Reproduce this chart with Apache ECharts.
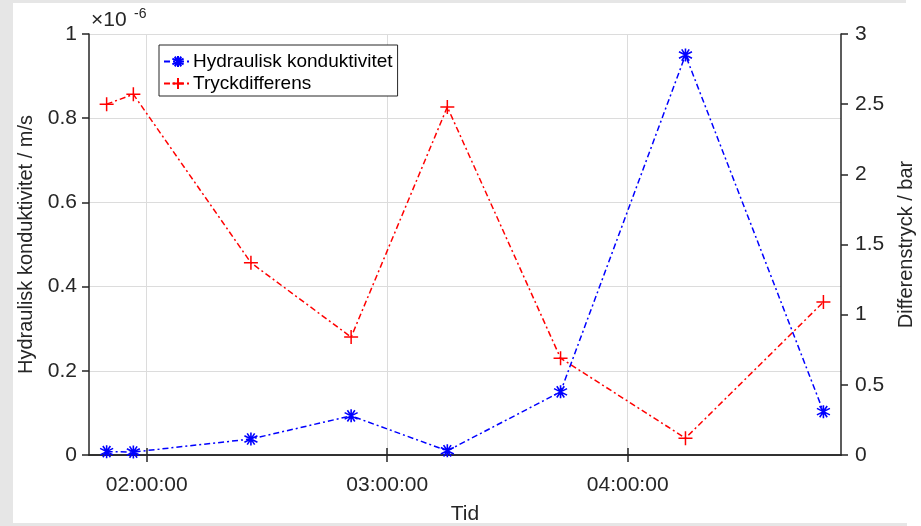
<!DOCTYPE html>
<html>
<head>
<meta charset="utf-8">
<script src="https://cdn.jsdelivr.net/npm/echarts@6/dist/echarts.min.js"></script>
<style>
  html, body { margin: 0; padding: 0; background: #fff; }
  #chart { width: 921px; height: 526px; }
</style>
</head>
<body>
<div id="chart"></div>
<script>
// mättidpunkter (hh:mm:ss)
const times = ['01:50:00', '01:56:40', '02:26:00', '02:51:00', '03:15:00', '03:43:15', '04:14:25', '04:48:50']
// hydraulisk konduktivitet, enhet 1e-6 m/s
const kond = [0.008, 0.007, 0.038, 0.093, 0.010, 0.150, 0.950, 0.103]
// tryckdifferens, bar
const tryck = [2.50, 2.57, 1.37, 0.84, 2.48, 0.69, 0.12, 1.09]
const timeTicks = [2, 3, 4]

const toHours = s => {
  const p = s.split(':').map(Number)
  return p[0] + p[1] / 60 + p[2] / 3600
}
const fmtTime = h => String(Math.round(h)).padStart(2, '0') + ':00:00'
const fmtNum = v => String(+v.toFixed(2))

const font = '"Liberation Sans", Arial, sans-serif'
const ink = '#262626'
const asterisk = 'path://M0,-10L0,10M-8.7,-5L8.7,5M-8.7,5L8.7,-5M-5,-8.7L5,8.7M5,-8.7L-5,8.7'
const plus = 'path://M0,-10L0,10M-10,0L10,0'

const xMin = 1.76
const xMax = 4.887

const chart = echarts.init(document.getElementById('chart'))
chart.setOption({
  animation: false,
  backgroundColor: '#fff',
  textStyle: { fontFamily: font, color: ink },
  graphic: [
    { type: 'rect', shape: { x: 0, y: 0, width: 906, height: 3 }, style: { fill: '#e6e6e6' } },
    { type: 'rect', shape: { x: 0, y: 0, width: 13, height: 526 }, style: { fill: '#e6e6e6' } },
    { type: 'rect', shape: { x: 0, y: 523, width: 907, height: 3 }, style: { fill: '#e6e6e6' } },
    { type: 'text', left: 91, top: 10, style: { text: '×10', font: '21px ' + font, fill: ink } },
    { type: 'text', left: 134, top: 7, style: { text: '-6', font: '14px ' + font, fill: ink } }
  ],
  grid: { left: 89, right: 80, top: 34, bottom: 71, outerBoundsMode: 'none' },
  legend: {
    orient: 'vertical',
    left: 159,
    top: 45,
    padding: [7, 5, 3, 4],
    itemGap: 3,
    itemWidth: 28,
    itemHeight: 14,
    backgroundColor: '#fff',
    borderColor: ink,
    borderWidth: 1,
    textStyle: { fontSize: 19, color: '#000', padding: [0, 0, 0, -4] },
    data: ['Hydraulisk konduktivitet', 'Tryckdifferens']
  },
  xAxis: [{
    type: 'value',
    min: xMin,
    max: xMax,
    name: 'Tid',
    nameLocation: 'middle',
    nameGap: 49,
    nameTextStyle: { fontSize: 21, color: ink },
    axisLine: { lineStyle: { color: ink, width: 1.5 } },
    axisTick: { customValues: timeTicks, length: 7, lineStyle: { color: ink, width: 1.5 } },
    axisLabel: { customValues: timeTicks, formatter: fmtTime, fontSize: 21, color: ink, margin: 20 },
    splitLine: { show: true, lineStyle: { color: '#dcdcdc', width: 1 } }
  }, {
    type: 'value',
    position: 'top',
    min: xMin,
    max: xMax,
    axisLine: { lineStyle: { color: ink, width: 1.5 } },
    axisTick: { customValues: timeTicks, length: 7, lineStyle: { color: ink, width: 1.5 } },
    axisLabel: { show: false },
    splitLine: { show: false }
  }],
  yAxis: [{
    type: 'value',
    min: 0,
    max: 1,
    interval: 0.2,
    name: 'Hydraulisk konduktivitet / m/s',
    nameLocation: 'middle',
    nameGap: 45,
    nameTextStyle: { fontSize: 20, color: ink },
    axisLine: { show: true, lineStyle: { color: ink, width: 1.5 } },
    axisTick: { show: true, length: 7, lineStyle: { color: ink, width: 1.5 } },
    axisLabel: { formatter: fmtNum, fontSize: 21, color: ink, margin: 12 },
    splitLine: { show: true, lineStyle: { color: '#dcdcdc', width: 1 } }
  }, {
    type: 'value',
    position: 'right',
    min: 0,
    max: 3,
    interval: 0.5,
    name: 'Differenstryck / bar',
    nameLocation: 'middle',
    nameGap: 55,
    nameRotate: 90,
    nameTextStyle: { fontSize: 20, color: ink },
    axisLine: { show: true, lineStyle: { color: ink, width: 1.5 } },
    axisTick: { show: true, length: 7, lineStyle: { color: ink, width: 1.5 } },
    axisLabel: { formatter: fmtNum, fontSize: 21, color: ink, margin: 14 },
    splitLine: { show: false }
  }],
  series: [{
    name: 'Hydraulisk konduktivitet',
    type: 'line',
    yAxisIndex: 0,
    data: times.map((t, i) => [toHours(t), kond[i]]),
    symbol: asterisk,
    symbolSize: 13,
    itemStyle: { color: '#0000ff', borderColor: '#0000ff', borderWidth: 1.6 },
    lineStyle: { color: '#0000ff', width: 1.5, type: [6, 3, 2, 3] },
    z: 3
  }, {
    name: 'Tryckdifferens',
    type: 'line',
    yAxisIndex: 1,
    data: times.map((t, i) => [toHours(t), tryck[i]]),
    symbol: plus,
    symbolSize: 14,
    itemStyle: { color: '#ff0000', borderColor: '#ff0000', borderWidth: 1.5 },
    lineStyle: { color: '#ff0000', width: 1.5, type: [6, 3, 2, 3] },
    z: 2
  }]
})
</script>
</body>
</html>
